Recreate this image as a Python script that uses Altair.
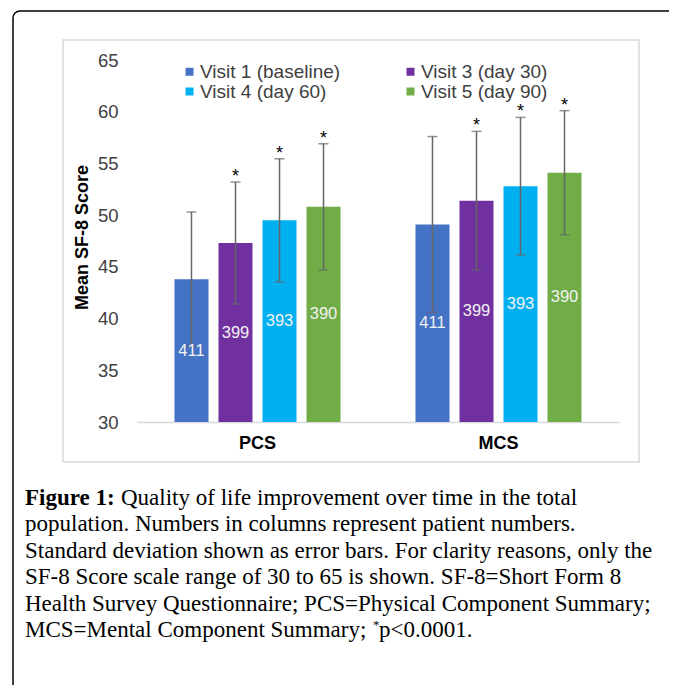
import altair as alt
import pandas as pd

components = ["PCS", "MCS"]
visits = ["Visit 1 (baseline)", "Visit 3 (day 30)", "Visit 4 (day 60)", "Visit 5 (day 90)"]
colors = ["#4472C4", "#7030A0", "#00B0F0", "#70AD47"]
pcs_mean = [43.8, 47.3, 49.5, 50.8]
pcs_sd = [6.5, 5.9, 5.95, 6.1]
mcs_mean = [49.1, 51.4, 52.8, 54.1]
mcs_sd = [8.5, 6.7, 6.65, 6.0]
patients = [411, 399, 393, 390]
significant = ["", "*", "*", "*"]
y_ticks = [30, 35, 40, 45, 50, 55, 60, 65]

caption_lines = [
    "Quality of life improvement over time in the total",
    "population. Numbers in columns represent patient numbers.",
    "Standard deviation shown as error bars. For clarity reasons, only the",
    "SF-8 Score scale range of 30 to 65 is shown. SF-8=Short Form 8",
    "Health Survey Questionnaire; PCS=Physical Component Summary;",
    "MCS=Mental Component Summary;",
]
caption_bold = "Figure 1:"
caption_tail = "p<0.0001."

rows = []
for comp, means, sds in [("PCS", pcs_mean, pcs_sd), ("MCS", mcs_mean, mcs_sd)]:
    for i, v in enumerate(visits):
        rows.append(dict(component=comp, visit=v, mean=means[i], sd=sds[i],
                         n=patients[i], star=significant[i]))
df = pd.DataFrame(rows)

SANS = "Liberation Sans"
SERIF = "Liberation Serif"

base = alt.Chart(df).transform_calculate(
    lo="datum.mean - datum.sd",
    hi="datum.mean + datum.sd",
    mid="(datum.mean + 30) / 2",
)

x_axis = alt.Axis(title=None, ticks=False, tickSize=0, domainColor="#d9d9d9",
                  domainWidth=1.5, labelFont=SANS, labelFontSize=18,
                  labelFontWeight="bold", labelColor="#000000", labelPadding=12,
                  labelAngle=0, grid=False)
x = alt.X("component:N", sort=components,
          scale=alt.Scale(paddingInner=0, paddingOuter=0), axis=x_axis)
xo = alt.XOffset("visit:N", sort=visits,
                 scale=alt.Scale(paddingInner=0.227, paddingOuter=0.852))
yscale = alt.Scale(domain=[30, 65], nice=False, zero=False)
y_axis = alt.Axis(title="Mean SF-8 Score", values=y_ticks, domain=False,
                  ticks=False, tickSize=0, grid=False, labelFont=SANS,
                  labelFontSize=18.5, labelColor="#404040", labelPadding=19,
                  titleFont=SANS, titleFontSize=18,
                  titleFontWeight="bold", titleColor="#000000", titleAngle=-90,
                  titleX=-50, titleY=177, titleAlign="center",
                  titleBaseline="alphabetic")

legend = alt.Legend(title=None, orient="none", legendX=43, legendY=2, columns=2,
                    direction="horizontal",
                    symbolType="square", symbolSize=64, symbolStrokeWidth=0,
                    labelFont=SANS, labelFontSize=19, labelColor="#404040",
                    labelOffset=1, columnPadding=60, rowPadding=0, padding=0)

bars = base.mark_bar().encode(
    x=x, xOffset=xo,
    y=alt.Y("mean:Q", scale=yscale, axis=y_axis),
    y2=alt.datum(30),
    color=alt.Color("visit:N", sort=visits,
                    scale=alt.Scale(domain=visits, range=colors), legend=legend),
)

rules = base.mark_rule(color="#666666", strokeWidth=1.5).encode(
    x=x, xOffset=xo,
    y=alt.Y("lo:Q", scale=yscale, axis=y_axis), y2="hi:Q",
)
cap_hi = base.mark_tick(color="#666666", thickness=1.5, size=10).encode(
    x=x, xOffset=xo, y=alt.Y("hi:Q", scale=yscale, axis=y_axis))
cap_lo = base.mark_tick(color="#666666", thickness=1.5, size=10).encode(
    x=x, xOffset=xo, y=alt.Y("lo:Q", scale=yscale, axis=y_axis))

nlabels = base.mark_text(font=SANS, fontSize=16.5, color="#f2f2f2",
                         baseline="middle").encode(
    x=x, xOffset=xo, y=alt.Y("mid:Q", scale=yscale, axis=y_axis), text="n:Q")

stars = base.transform_filter("datum.star != ''").mark_text(
    font=SANS, fontSize=18, color="#000000", baseline="alphabetic", dy=0).encode(
    x=x, xOffset=xo, y=alt.Y("hi:Q", scale=yscale, axis=y_axis), text="star:N")

one = pd.DataFrame({"k": [0]})
outer_box = alt.Chart(one).mark_rect(fill=None, stroke="#000000", strokeWidth=1.5,
                                     cornerRadius=7).encode(
    x=alt.value(-124), x2=alt.value(560), y=alt.value(-49), y2=alt.value(660))
inner_box = alt.Chart(one).mark_rect(fill=None, stroke="#d9d9d9",
                                     strokeWidth=1.5).encode(
    x=alt.value(-74), x2=alt.value(502), y=alt.value(-20), y2=alt.value(402))

cap_layers = []
baselines = [445, 471.4, 497.8, 524.2, 550.6, 577]
cap_layers.append(alt.Chart(one).mark_text(
    font=SERIF, fontSize=23, fontWeight="bold", align="left",
    baseline="alphabetic", color="#000000").encode(
    x=alt.value(-112), y=alt.value(baselines[0]), text=alt.value(caption_bold)))
for i, line in enumerate(caption_lines):
    cap_layers.append(alt.Chart(one).mark_text(
        font=SERIF, fontSize=23, align="left", baseline="alphabetic",
        color="#000000").encode(
        x=alt.value(-16 if i == 0 else -112), y=alt.value(baselines[i]),
        text=alt.value(line)))
cap_layers.append(alt.Chart(one).mark_text(
    font=SERIF, fontSize=13, align="left", baseline="alphabetic",
    color="#000000").encode(
    x=alt.value(236), y=alt.value(baselines[5] - 8), text=alt.value("*")))
cap_layers.append(alt.Chart(one).mark_text(
    font=SERIF, fontSize=23, align="left", baseline="alphabetic",
    color="#000000").encode(
    x=alt.value(242), y=alt.value(baselines[5]), text=alt.value(caption_tail)))

chart = alt.layer(
    outer_box, inner_box, bars, rules, cap_hi, cap_lo, nlabels, stars, *cap_layers
).properties(
    width=482, height=362,
    autosize=alt.AutoSizeParams(type="none"),
    padding={"left": 129, "top": 52, "right": 50, "bottom": 263},
    background="#ffffff",
).configure_view(stroke=None)

chart.save("out.html", embed_options={"renderer": "svg", "actions": False})
